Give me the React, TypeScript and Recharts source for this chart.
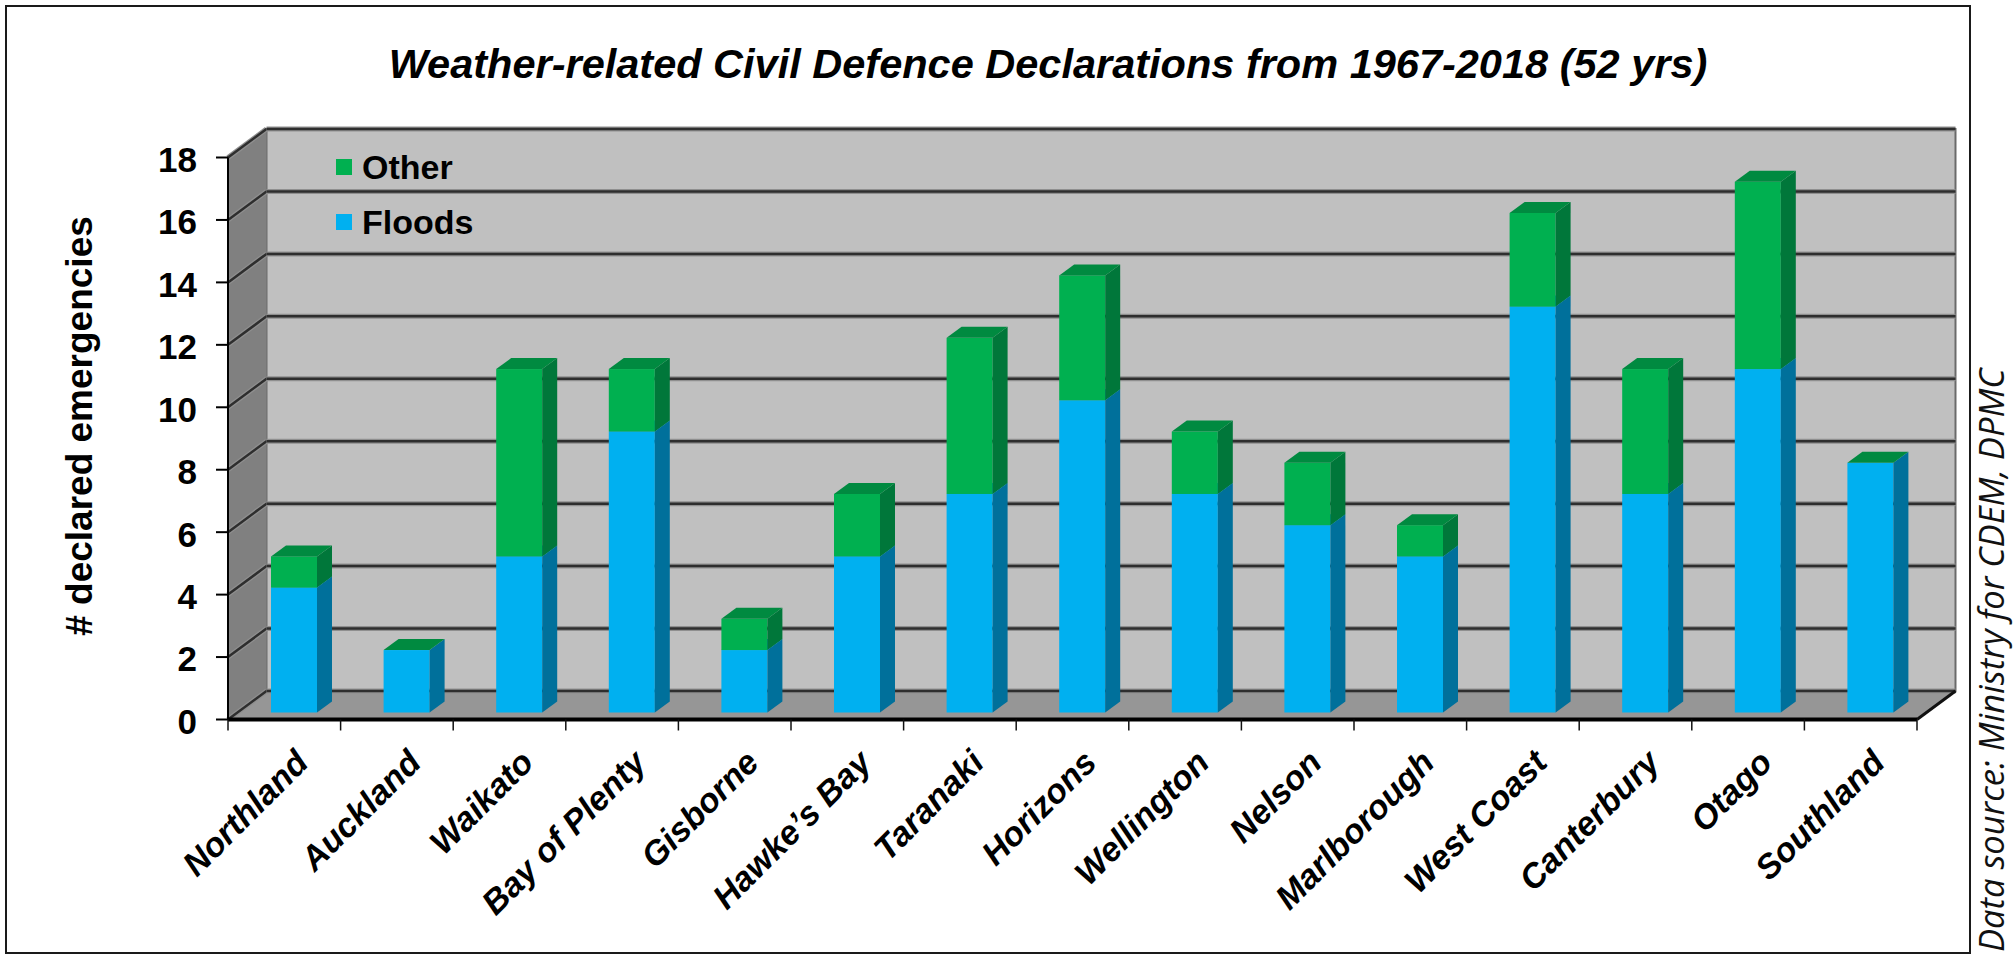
import React from 'react';
import { BarChart, Bar, XAxis, YAxis, ReferenceArea, Legend, Label } from 'recharts';

const regions = [
  'Northland', 'Auckland', 'Waikato', 'Bay of Plenty', 'Gisborne', 'Hawke’s Bay', 'Taranaki', 'Horizons',
  'Wellington', 'Nelson', 'Marlborough', 'West Coast', 'Canterbury', 'Otago', 'Southland',
];
const floods = [4, 2, 5, 9, 2, 5, 7, 10, 7, 6, 5, 13, 7, 11, 8];
const other = [1, 0, 6, 2, 1, 2, 5, 4, 2, 2, 1, 3, 4, 6, 0];
const yTicks = [0, 2, 4, 6, 8, 10, 12, 14, 16, 18];

const data = regions.map((region, i) => ({ region, floods: floods[i], other: other[i] }));

const W = 2013;
const H = 955;
const FONT = '"Liberation Sans", Arial, sans-serif';

// oblique depth of the box: the back wall sits this far right / up of the front plane
const DEPTH_X = 38.5;
const DEPTH_Y = 28.5;
// bars stand a little behind the front edge and have their own thickness
const BAR_OFF_X = 10;
const BAR_OFF_Y = 7;
const BAR_DX = 15;
const BAR_DY = 11;

const BLUE = { front: '#00b0f0', side: '#00709b', top: '#0090c8' };
const GREEN = { front: '#00b050', side: '#00773a', top: '#008a40' };

const gridLine = (x1: number, y1: number, x2: number, y2: number, key: string) => (
  <g key={key}>
    <line x1={x1} y1={y1} x2={x2} y2={y2} stroke="#8f8f8f" strokeWidth={5} />
    <line x1={x1} y1={y1} x2={x2} y2={y2} stroke="#2e2e2e" strokeWidth={2.5} />
  </g>
);

// back wall, left wall, floor and gridlines of the 3D box
const Walls = (props: any) => {
  const { x, y, width, height } = props;
  const yMax = yTicks[yTicks.length - 1];
  const yAt = (v: number) => y + height * (1 - v / yMax);
  const bx = x + DEPTH_X;
  const bottom = y + height;
  return (
    <g>
      <rect x={bx} y={y - DEPTH_Y} width={width} height={height} fill="#c0c0c0" stroke="#6a6a6a" strokeWidth={2} />
      <polygon
        points={`${x},${y} ${bx},${y - DEPTH_Y} ${bx},${bottom - DEPTH_Y} ${x},${bottom}`}
        fill="#808080"
      />
      <polygon
        points={`${x},${bottom} ${x + width},${bottom} ${x + width + DEPTH_X},${bottom - DEPTH_Y} ${bx},${bottom - DEPTH_Y}`}
        fill="#969696"
      />
      {yTicks.map((v) => {
        const yy = yAt(v);
        return (
          <g key={v}>
            {gridLine(x, yy, bx, yy - DEPTH_Y, `s${v}`)}
            {gridLine(bx, yy - DEPTH_Y, bx + width, yy - DEPTH_Y, `b${v}`)}
          </g>
        );
      })}
      <line
        x1={x + width}
        y1={bottom}
        x2={x + width + DEPTH_X}
        y2={bottom - DEPTH_Y}
        stroke="#111"
        strokeWidth={3}
      />
    </g>
  );
};

const prism = (fx: number, fy: number, w: number, h: number, c: { front: string; side: string }, top: string) => (
  <g>
    <rect x={fx} y={fy} width={w} height={h} fill={c.front} />
    <polygon
      points={`${fx + w},${fy} ${fx + w + BAR_DX},${fy - BAR_DY} ${fx + w + BAR_DX},${fy + h - BAR_DY} ${fx + w},${fy + h}`}
      fill={c.side}
    />
    <polygon
      points={`${fx},${fy} ${fx + BAR_DX},${fy - BAR_DY} ${fx + w + BAR_DX},${fy - BAR_DY} ${fx + w},${fy}`}
      fill={top}
    />
  </g>
);

const FloodsShape = (props: any) => {
  const { x, y, width, height, payload } = props;
  if (!height || height <= 0) return null;
  // an empty "other" segment still leaves its lid on the stack
  const lid = payload && payload.other === 0 ? GREEN.top : BLUE.top;
  return prism(x + BAR_OFF_X, y - BAR_OFF_Y, width, height, BLUE, lid);
};

const OtherShape = (props: any) => {
  const { x, y, width, height } = props;
  if (!height || height <= 0) return null;
  return prism(x + BAR_OFF_X, y - BAR_OFF_Y, width, height, GREEN, GREEN.top);
};

const RegionTick = (props: any) => {
  const { x, y, payload, index, visibleTicksCount } = props;
  const half = payload.offset ?? 0;
  const last = index === visibleTicksCount - 1;
  const tx = x + 26;
  const ty = y + 45;
  return (
    <g>
      <line x1={x - half} y1={y} x2={x - half} y2={y + 11} stroke="#111" strokeWidth={1.5} />
      {last && <line x1={x + half} y1={y} x2={x + half} y2={y + 11} stroke="#111" strokeWidth={1.5} />}
      <text
        x={tx}
        y={ty}
        transform={`rotate(-45, ${tx}, ${ty})`}
        textAnchor="end"
        fontFamily={FONT}
        fontWeight="bold"
        fontStyle="italic"
        fontSize={34}
        fill="#000"
      >
        {payload.value}
      </text>
    </g>
  );
};

const renderLegend = (props: any) => {
  const items = [...(props.payload || [])].reverse();
  return (
    <div>
      {items.map((item: any) => (
        <div key={item.value} style={{ display: 'flex', alignItems: 'center', height: 55 }}>
          <span style={{ width: 16, height: 16, background: item.color, marginRight: 10 }} />
          <span style={{ fontFamily: FONT, fontWeight: 'bold', fontSize: 34, lineHeight: 1, color: '#000' }}>
            {item.value}
          </span>
        </div>
      ))}
    </div>
  );
};

export default function App() {
  return (
    <div style={{ position: 'absolute', left: 0, top: 0, width: W, height: H, background: '#fff' }}>
      <BarChart width={W} height={H} data={data} margin={{ top: 157.5, right: 96, bottom: 0, left: 0 }}>
        <ReferenceArea y1={0} y2={18} shape={<Walls />} />
        <XAxis
          dataKey="region"
          height={235.5}
          interval={0}
          tickSize={0}
          tickMargin={0}
          tickLine={false}
          axisLine={{ stroke: '#000', strokeWidth: 4 }}
          tick={<RegionTick />}
        />
        <YAxis
          width={228}
          domain={[0, 18]}
          ticks={yTicks}
          interval={0}
          tickSize={12}
          tickMargin={19}
          axisLine={{ stroke: '#000', strokeWidth: 2 }}
          tickLine={{ stroke: '#000', strokeWidth: 2 }}
          tick={{ fontFamily: FONT, fontWeight: 'bold', fontSize: 35, fill: '#000', dy: 2 }}
        >
          <Label
            content={() => (
              <text
                x={92}
                y={426}
                transform="rotate(-90, 92, 426)"
                textAnchor="middle"
                fontFamily={FONT}
                fontWeight="bold"
                fontSize={37}
                fill="#000"
              >
                # declared emergencies
              </text>
            )}
          />
        </YAxis>
        <Legend
          layout="horizontal"
          verticalAlign="middle"
          align="center"
          wrapperStyle={{ left: 336, top: 139.5, width: 'auto', height: 'auto' }}
          content={renderLegend}
        />
        <Bar dataKey="floods" name="Floods" stackId="a" barSize={46} fill={BLUE.front} shape={<FloodsShape />} isAnimationActive={false} />
        <Bar dataKey="other" name="Other" stackId="a" barSize={46} fill={GREEN.front} shape={<OtherShape />} isAnimationActive={false} />
      </BarChart>
      <svg width={W} height={H} style={{ position: 'absolute', left: 0, top: 0, pointerEvents: 'none' }}>
        <rect x={6} y={6} width={1964} height={947} fill="none" stroke="#1a1a1a" strokeWidth={2} />
        <text
          x={1048}
          y={78}
          textAnchor="middle"
          fontFamily={FONT}
          fontWeight="bold"
          fontStyle="italic"
          fontSize={41.5}
          fill="#000"
        >
          Weather-related Civil Defence Declarations from 1967-2018 (52 yrs)
        </text>
        <text
          x={2004}
          y={952}
          transform="rotate(-90, 2004, 952)"
          fontFamily='"Open Sans", sans-serif'
          fontStyle="italic"
          fontSize={34.5}
          fill="#111"
        >
          Data source: Ministry for CDEM, DPMC
        </text>
      </svg>
    </div>
  );
}
